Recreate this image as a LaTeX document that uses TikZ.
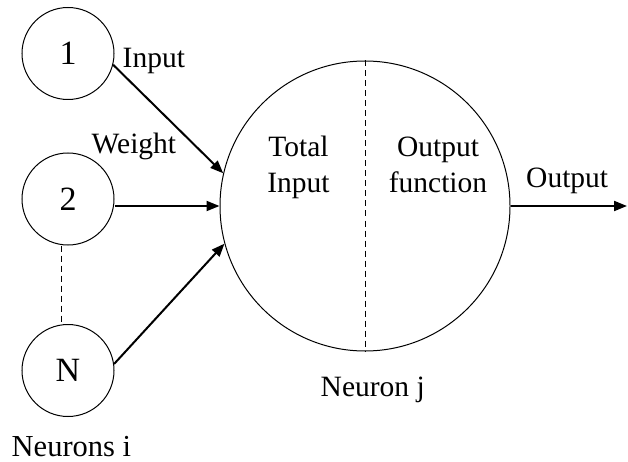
\documentclass[tikz,border=0pt]{standalone}
\usepackage{fontspec}
\setmainfont{Liberation Serif}
\usetikzlibrary{arrows.meta}
\begin{document}
\begin{tikzpicture}[x=1pt,y=-1pt,
  every node/.style={font=\fontsize{29.5}{36}\selectfont},
  neuron/.style={draw, circle, line width=1pt, inner sep=0pt, minimum size=92pt,
    font=\fontsize{34}{40}\selectfont},
  body/.style={draw, circle, line width=1pt, inner sep=0pt, minimum size=290pt},
  link/.style={line width=2pt, -{Triangle[length=13pt,width=10pt]}},
  sep/.style={line width=1pt, dash pattern=on 6pt off 4pt},
  lbl/.style={anchor=base west, inner sep=0pt}]
\useasboundingbox (0,0) rectangle (628,462);

% input neurons
\node[neuron] (c1) at (68,53.5) {1};
\node[neuron] (c2) at (68,199) {2};
\node[neuron] (cN) at (68,370.5) {N};
\draw[sep] ([xshift=-7pt]c2.south) -- ([xshift=-7pt]cN.north);

% receiving neuron
\node[body] (big) at (365,206) {};
\draw[sep] (big.north) -- (big.south);
\node[align=center, inner sep=0pt, anchor=base] (ti) at (298.5,193) {Total\\Input};
\node[align=center, inner sep=0pt, anchor=base] (of) at (438,193) {Output\\function};

% connections
\draw[link] (c1.-14) -- (big.167);
\draw[link] (c2.east |- big.west) -- (big.west);
\draw[link] (cN.8) -- (big.195);
\coordinate (out) at (627,206);
\draw[link] (big.east) -- (out);

% labels
\node[lbl] (lin) at (122.5,68) {Input};
\node[lbl] (lw) at (91.5,154) {Weight};
\node[lbl] (lout) at (526,188) {Output};
\node[lbl, font=\fontsize{30.5}{36}\selectfont] (lni) at (11.5,456.5) {Neurons i};
\node[lbl] (lnj) at (320.5,396) {Neuron j};
\end{tikzpicture}
\end{document}
